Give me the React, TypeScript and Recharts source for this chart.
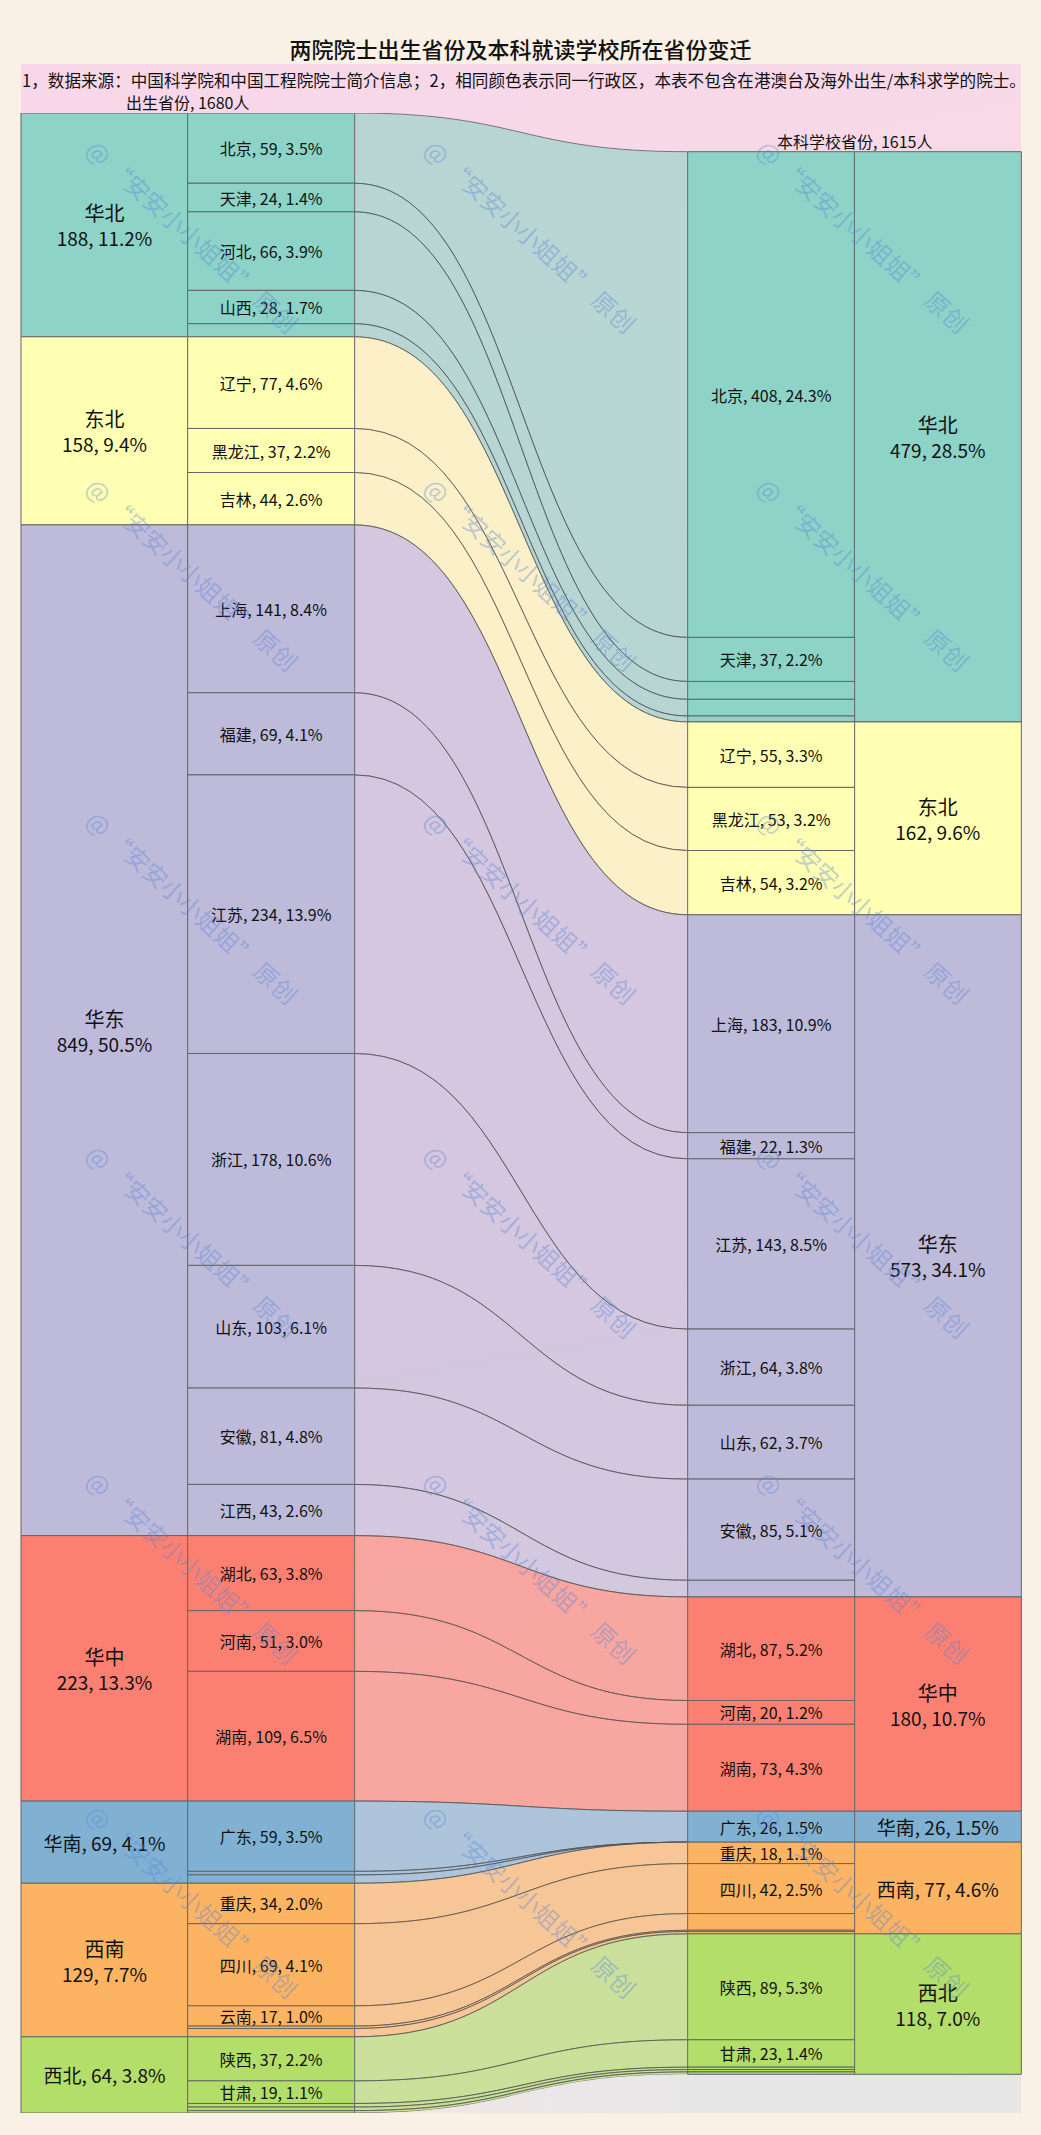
import React from "react";
import { ComposedChart, Bar, Area, XAxis, YAxis, Cell, LabelList } from "recharts";

const TOTAL_BORN = 1680;
const TOTAL_SCHOOL = 1615;

const REGIONS = ["华北", "东北", "华东", "华中", "华南", "西南", "西北"];
const REGION_COLORS = ["#8dd3c7", "#ffffb3", "#bebada", "#fb8072", "#80b1d3", "#fdb462", "#b3de69"];
const REGION_BORN = [188, 158, 849, 223, 69, 129, 64];
const REGION_SCHOOL = [479, 162, 573, 180, 26, 77, 118];

// same province order on both sides
const PROVINCES = [
  "北京", "天津", "河北", "山西", "内蒙古",
  "辽宁", "黑龙江", "吉林",
  "上海", "福建", "江苏", "浙江", "山东", "安徽", "江西",
  "湖北", "河南", "湖南",
  "广东", "广西", "海南",
  "重庆", "四川", "云南", "西藏", "贵州",
  "陕西", "甘肃", "宁夏", "青海", "新疆",
];
const PROVINCE_REGION = [0, 0, 0, 0, 0, 1, 1, 1, 2, 2, 2, 2, 2, 2, 2, 3, 3, 3, 4, 4, 4, 5, 5, 5, 5, 5, 6, 6, 6, 6, 6];
const BORN = [59, 24, 66, 28, 11, 77, 37, 44, 141, 69, 234, 178, 103, 81, 43, 63, 51, 109, 59, 3, 7, 34, 69, 17, 2, 7, 37, 19, 3, 3, 2];
const SCHOOL = [408, 37, 15, 14, 5, 55, 53, 54, 183, 22, 143, 64, 62, 85, 14, 87, 20, 73, 26, 0, 0, 18, 42, 14, 1, 2, 89, 23, 2, 2, 2];

const COLUMNS = ["出生大区", "出生省份", "", "", "本科省份", "本科大区"];

const FONT = "'Noto Sans CJK SC', 'Noto Sans', sans-serif";
const PAD = (TOTAL_BORN - TOTAL_SCHOOL) / 2;

const pct = (v: number) => ((v / TOTAL_BORN) * 100).toFixed(1) + "%";

const chartData = COLUMNS.map((name, c) => {
  const row: Record<string, any> = { col: `c${c}`, name };
  if (c === 0) REGION_BORN.forEach((v, k) => (row[`p${k}`] = v));
  if (c === 1) BORN.forEach((v, k) => (row[`p${k}`] = v || null));
  if (c === 4) {
    row.pad = PAD;
    SCHOOL.forEach((v, k) => (row[`p${k}`] = v || null));
  }
  if (c === 5) {
    row.pad = PAD;
    REGION_SCHOOL.forEach((v, k) => (row[`p${k}`] = v));
  }
  return row;
});

// flow bands: left stack -> right stack
const flows = (() => {
  let l = 0;
  let r = PAD;
  return PROVINCES.map((_, i) => {
    const d = [
      { x: 2, band: [l, l + BORN[i]] },
      { x: 4, band: [r, r + SCHOOL[i]] },
    ];
    l += BORN[i];
    r += SCHOOL[i];
    return d;
  });
})();

const bottomGap = [
  { x: 2, band: [TOTAL_BORN, TOTAL_BORN] },
  { x: 4, band: [TOTAL_BORN - PAD, TOTAL_BORN] },
  { x: 6, band: [TOTAL_BORN - PAD, TOTAL_BORN] },
];

const fillFor = (c: number, k: number) =>
  c === 0 || c === 5 ? REGION_COLORS[k] : REGION_COLORS[PROVINCE_REGION[k]];

// column of a label = which of the 6 bands its box sits in
const PLOT_LEFT = 21;
const BAND = 1000 / COLUMNS.length;

const makeLabel = (k: number) => (props: any) => {
  const vb = props.viewBox || props;
  const x = Number(vb.x);
  const y = Number(vb.y);
  const w = Number(vb.width);
  const h = Number(vb.height);
  if (!isFinite(x) || !isFinite(y) || !isFinite(h)) return null;
  const c = Math.floor((x + w / 2 - PLOT_LEFT) / BAND);
  const cx = x + w / 2;
  const cy = y + h / 2;
  const top = Math.min(y, y + h);
  const out: any[] = [];
  if (k === 0 && (c === 1 || c === 4)) {
    out.push(
      <text key="hd" x={c === 1 ? x : x + w} y={top - 11} textAnchor="middle" dominantBaseline="central" fontSize={16} fill="#111">
        {c === 1 ? `出生省份, ${TOTAL_BORN}人` : `本科学校省份, ${TOTAL_SCHOOL}人`}
      </text>
    );
  }
  if (c === 0 || c === 5) {
    const v = c === 0 ? REGION_BORN[k] : REGION_SCHOOL[k];
    if (v) {
      if (v > 100) {
        out.push(
          <text key="a" x={cx} y={cy - 12} textAnchor="middle" dominantBaseline="central" fontSize={20} fill="#111">
            {REGIONS[k]}
          </text>,
          <text key="b" x={cx} y={cy + 13} textAnchor="middle" dominantBaseline="central" fontSize={19} fill="#111">
            {`${v}, ${pct(v)}`}
          </text>
        );
      } else {
        out.push(
          <text key="a" x={cx} y={cy} textAnchor="middle" dominantBaseline="central" fontSize={19} fill="#111">
            {`${REGIONS[k]}, ${v}, ${pct(v)}`}
          </text>
        );
      }
    }
  } else if (c === 1 || c === 4) {
    const v = c === 1 ? BORN[k] : SCHOOL[k];
    if (v >= 17) {
      out.push(
        <text key="p" x={cx} y={cy} textAnchor="middle" dominantBaseline="central" fontSize={16} fill="#111">
          {`${PROVINCES[k]}, ${v}, ${pct(v)}`}
        </text>
      );
    }
  }
  return <g>{out}</g>;
};

const WM_X = [84, 422, 755];
const WM_Y = [152, 490, 823, 1157, 1483, 1817];

export default function App() {
  return (
    <div style={{ position: "relative", width: 1041, height: 2135, background: "#faf0e6", fontFamily: FONT, color: "#111", overflow: "hidden" }}>
      <style>{"body{margin:0}"}</style>
      <div style={{ position: "absolute", top: 34, left: 0, width: 1041, textAlign: "center", fontSize: 22, lineHeight: "28px", fontWeight: 500 }}>
        两院院士出生省份及本科就读学校所在省份变迁
      </div>
      <div
        style={{
          position: "absolute",
          left: 21,
          top: 64,
          width: 1000,
          height: 2049,
          background: "linear-gradient(170deg, #f8d8e8 0%, #f4dae6 60%, #ebe5e7 100%)",
        }}
      />
      <div style={{ position: "absolute", left: 22, top: 70, fontSize: 16.6, lineHeight: "20px", whiteSpace: "nowrap" }}>
        1，数据来源：中国科学院和中国工程院院士简介信息；2，相同颜色表示同一行政区，本表不包含在港澳台及海外出生/本科求学的院士。
      </div>
      <div style={{ position: "absolute", left: 0, top: 0 }}>
        <ComposedChart
          width={1041}
          height={2135}
          data={chartData}
          margin={{ top: 113, right: 20, bottom: 22, left: 21 }}
          barCategoryGap={0}
          barGap={0}
        >
          <defs>
            <linearGradient id="gapGrad" x1="0" y1="0" x2="1" y2="0">
              <stop offset="0%" stopColor="#f1e6e8" />
              <stop offset="50%" stopColor="#e8e7e8" />
              <stop offset="100%" stopColor="#e6e6e6" />
            </linearGradient>
          </defs>
          <XAxis xAxisId="cat" dataKey="col" type="category" hide />
          <XAxis xAxisId="flow" dataKey="x" type="number" domain={[0, 6]} allowDataOverflow hide />
          <YAxis type="number" domain={[0, TOTAL_BORN]} reversed allowDataOverflow hide />
          {flows.map((d, i) => (
            <Area
              key={`f${i}`}
              xAxisId="flow"
              data={d}
              dataKey="band"
              type="bumpX"
              fill={REGION_COLORS[PROVINCE_REGION[i]]}
              fillOpacity={0.6}
              stroke="#4d4d4d"
              strokeWidth={0.7}
              dot={false}
              activeDot={false}
              isAnimationActive={false}
            />
          ))}
          <Area
            xAxisId="flow"
            data={bottomGap}
            dataKey="band"
            type="bumpX"
            fill="url(#gapGrad)"
            fillOpacity={1}
            stroke="none"
            dot={false}
            activeDot={false}
            isAnimationActive={false}
          />
          <Bar xAxisId="cat" dataKey="pad" stackId="s" fill="transparent" stroke="none" isAnimationActive={false} />
          {PROVINCES.map((_, k) => (
            <Bar key={`b${k}`} xAxisId="cat" dataKey={`p${k}`} stackId="s" stroke="#666" strokeWidth={1} isAnimationActive={false}>
              {chartData.map((_, c) => (
                <Cell key={c} fill={fillFor(c, k)} />
              ))}
              <LabelList dataKey={`p${k}`} content={makeLabel(k)} />
            </Bar>
          ))}
        </ComposedChart>
      </div>
      <svg width={1041} height={2135} style={{ position: "absolute", left: 0, top: 0, pointerEvents: "none" }}>
        {WM_Y.map((wy) =>
          WM_X.map((wx) => (
            <text
              key={`${wx}-${wy}`}
              x={wx}
              y={wy}
              transform={`rotate(42 ${wx} ${wy})`}
              fontSize={24}
              fill="#5a86d8"
              fillOpacity={0.4}
              fontFamily={FONT}
            >
              @ “安安小小姐姐” 原创
            </text>
          ))
        )}
      </svg>
    </div>
  );
}
